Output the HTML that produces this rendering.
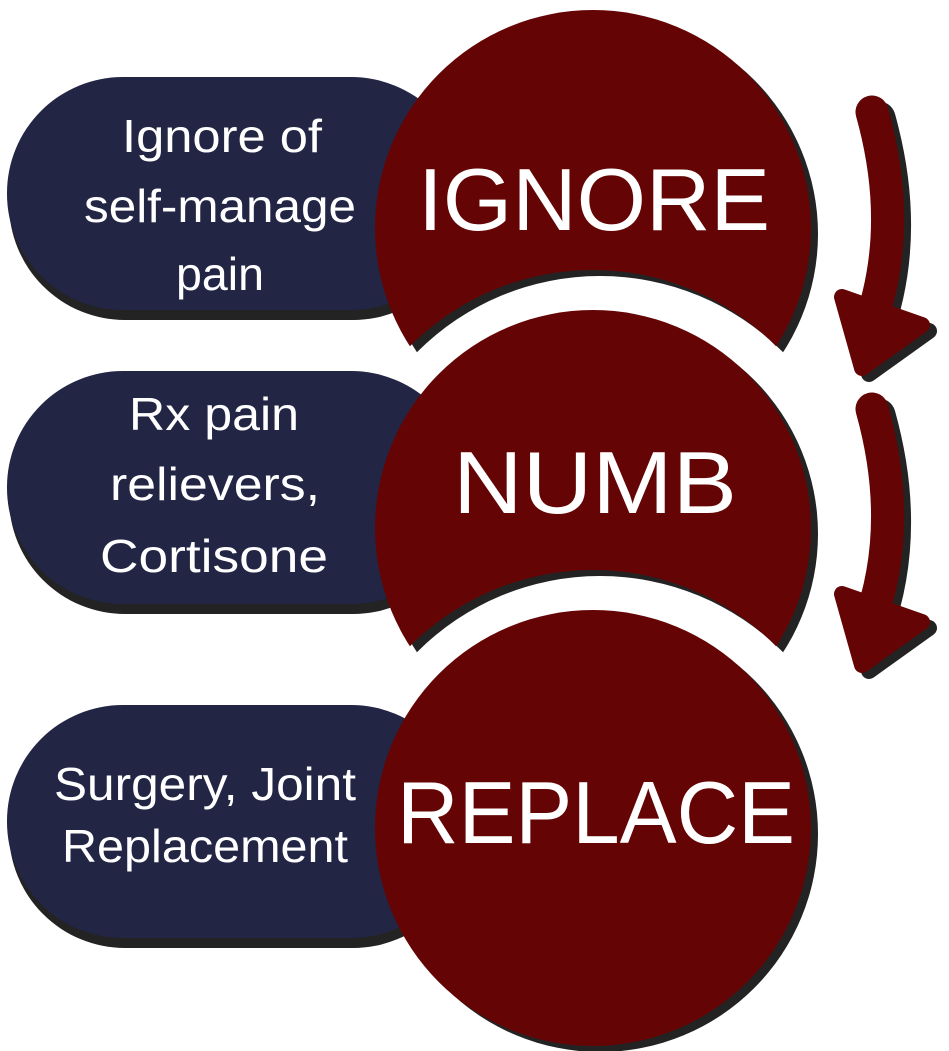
<!DOCTYPE html>
<html><head><meta charset="utf-8"><style>
html,body{margin:0;padding:0;background:#fff;}
svg{display:block;}
text{font-family:"Liberation Sans",sans-serif;fill:#fff;}
</style></head><body>
<svg width="949" height="1051" viewBox="0 0 949 1051">
<defs>
<mask id="m1"><rect width="949" height="1051" fill="#fff"/><circle cx="593" cy="528" r="258" fill="#000"/></mask>
<mask id="m2"><rect width="949" height="1051" fill="#fff"/><circle cx="593" cy="828" r="258" fill="#000"/></mask>
<mask id="m1s"><rect width="949" height="1051" fill="#fff"/><circle cx="600" cy="534" r="258" fill="#000"/></mask>
<mask id="m2s"><rect width="949" height="1051" fill="#fff"/><circle cx="600" cy="834" r="258" fill="#000"/></mask>
</defs>
<g fill="#232323">
<rect x="9" y="87" width="460" height="233" rx="116"/>
<rect x="9" y="381" width="460" height="233" rx="116"/>
<rect x="9" y="715" width="460" height="233" rx="116"/>
</g>
<g fill="#222544">
<rect x="7" y="77" width="460" height="233" rx="116"/>
<rect x="7" y="371" width="460" height="233" rx="116"/>
<rect x="7" y="705" width="460" height="233" rx="116"/>
</g>
<circle cx="600" cy="234" r="218" fill="#232323" mask="url(#m1s)"/>
<circle cx="600" cy="534" r="218" fill="#232323" mask="url(#m2s)"/>
<circle cx="600" cy="834" r="218" fill="#232323"/>
<circle cx="593" cy="228" r="218" fill="#650404" mask="url(#m1)"/>
<circle cx="593" cy="528" r="218" fill="#650404" mask="url(#m2)"/>
<circle cx="593" cy="828" r="218" fill="#650404"/>
<g transform="translate(7,6)" stroke="#232323" fill="#232323" stroke-linecap="round" stroke-linejoin="round">
<path d="M872 112 Q905 230 868 330" fill="none" stroke-width="33"/>
<polygon points="842,297 922,325 862,368" stroke-width="16"/>
<path d="M872 409 Q905 527 868 627" fill="none" stroke-width="33"/>
<polygon points="842,594 922,622 862,665" stroke-width="16"/>
</g>
<g stroke="#650404" fill="#650404" stroke-linecap="round" stroke-linejoin="round">
<path d="M872 112 Q905 230 868 330" fill="none" stroke-width="33"/>
<polygon points="842,297 922,325 862,368" stroke-width="16"/>
<path d="M872 409 Q905 527 868 627" fill="none" stroke-width="33"/>
<polygon points="842,594 922,622 862,665" stroke-width="16"/>
</g>
<text x="594" y="230" font-size="88" text-anchor="middle" textLength="352" lengthAdjust="spacingAndGlyphs">IGNORE</text>
<text x="595" y="513" font-size="88" text-anchor="middle" textLength="284" lengthAdjust="spacingAndGlyphs">NUMB</text>
<text x="596" y="843" font-size="88" text-anchor="middle" textLength="398" lengthAdjust="spacingAndGlyphs">REPLACE</text>
<g font-size="46" text-anchor="middle">
<text x="222" y="152" textLength="200" lengthAdjust="spacingAndGlyphs">Ignore of</text>
<text x="220" y="222" textLength="272" lengthAdjust="spacingAndGlyphs">self-manage</text>
<text x="220" y="290" textLength="88" lengthAdjust="spacingAndGlyphs">pain</text>
<text x="214" y="430" textLength="170" lengthAdjust="spacingAndGlyphs">Rx pain</text>
<text x="215" y="500" textLength="210" lengthAdjust="spacingAndGlyphs">relievers,</text>
<text x="214" y="572" textLength="228" lengthAdjust="spacingAndGlyphs">Cortisone</text>
<text x="205" y="800" textLength="302" lengthAdjust="spacingAndGlyphs">Surgery, Joint</text>
<text x="205" y="862" textLength="286" lengthAdjust="spacingAndGlyphs">Replacement</text>
</g>
</svg>
</body></html>
